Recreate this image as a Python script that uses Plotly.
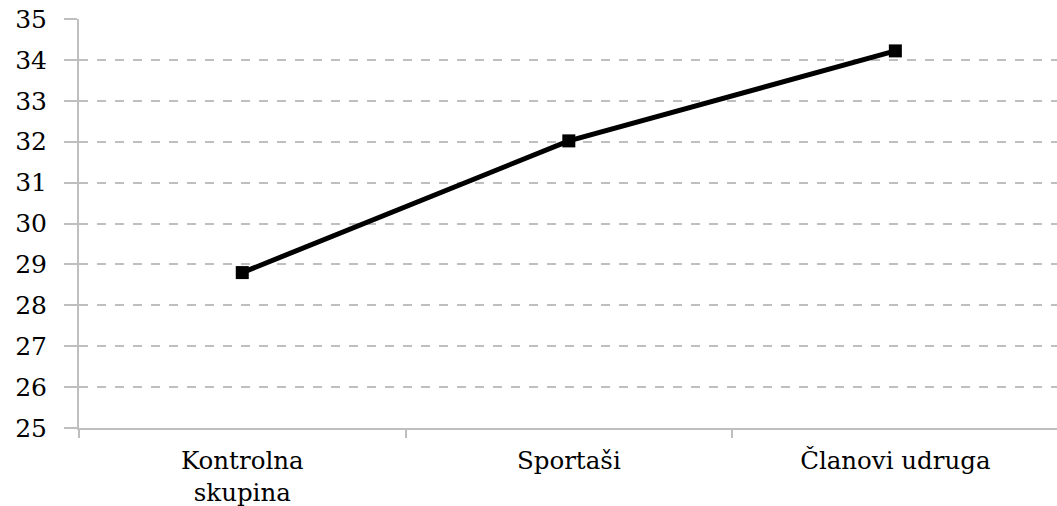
import plotly.graph_objects as go

categories = ["Kontrolna<br>skupina", "Sportaši", "Članovi udruga"]
values = [28.8, 32.02, 34.22]
y_ticks = list(range(25, 36))

fig = go.Figure()
fig.add_trace(go.Scatter(
    x=categories, y=values, mode="lines+markers",
    line=dict(color="#000000", width=5),
    marker=dict(symbol="square", size=13, color="#000000"),
    showlegend=False,
))

font_family = "DejaVu Serif, Liberation Serif, serif"
fig.update_layout(
    width=1057, height=506,
    margin=dict(l=79, r=0, t=19, b=78, autoexpand=False),
    plot_bgcolor="white", paper_bgcolor="white",
    font=dict(family=font_family, color="#000000"),
    xaxis=dict(
        type="category", range=[-0.5, 2.495], automargin=False,
        showgrid=False, showline=True, linecolor="#bfbfbf", linewidth=2,
        ticks="outside", tickson="boundaries", ticklen=8, tickcolor="#bfbfbf", tickwidth=2,
        tickfont=dict(size=24.5, family=font_family),
        ticklabelstandoff=10, ticklabeloverflow="allow",
        zeroline=False,
    ),
    yaxis=dict(
        range=[25, 35], tickvals=y_ticks, automargin=False,
        showgrid=True, gridcolor="#bfbfbf", griddash="dash", gridwidth=2,
        showline=True, linecolor="#bfbfbf", linewidth=2,
        ticks="outside", ticklen=13, tickcolor="#bfbfbf", tickwidth=2,
        tickfont=dict(size=25, family=font_family),
        ticklabelstandoff=12, ticklabeloverflow="allow",
        zeroline=False,
    ),
)

fig.write_html(
    "out.html",
    config={"displayModeBar": False},
    post_script="document.body.style.margin='0';document.body.style.overflow='hidden';",
)
